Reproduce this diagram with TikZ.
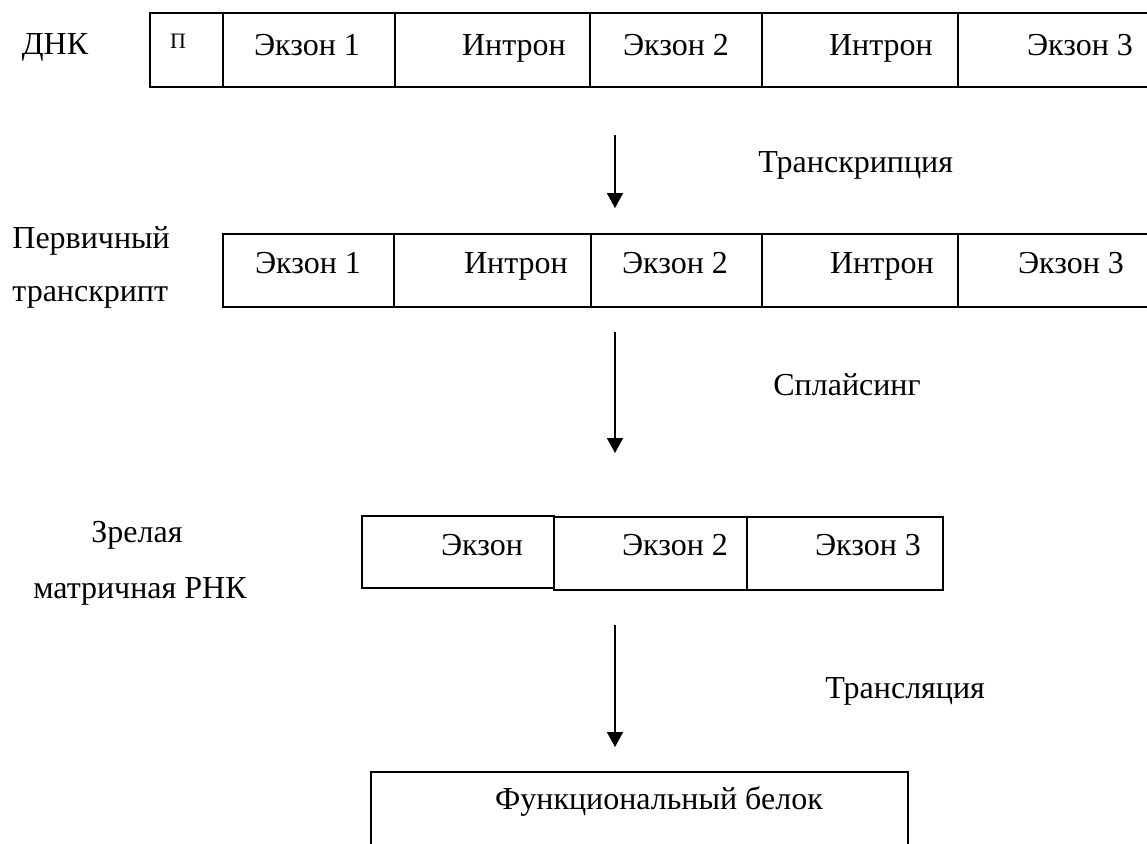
\documentclass[tikz,border=0pt]{standalone}
\usepackage{fontspec}
\setmainfont{Liberation Serif}
\usetikzlibrary{arrows.meta}
\tikzset{
  lbl/.style={font=\fontsize{16}{19}\selectfont, inner sep=0pt, anchor=base},
  side/.style={lbl, anchor=base west},
  cellline/.style={line width=1pt},
  flow/.style={line width=0.9pt, -{Triangle[width=8pt,length=7.5pt]}},
}
\begin{document}
\begin{tikzpicture}[x=0.5pt,y=-0.5pt]
\useasboundingbox (0,0) rectangle (1147,843);
\clip (0,0) rectangle (1147,843);
% DNA row
\draw[cellline] (150,13) rectangle (1200,87);
\foreach \kx in {223,395,590,762,958}
  \draw[cellline] (\kx,13) -- (\kx,87);
\node[lbl] (dnk) at (55,54) {ДНК};
\node[lbl, font=\fontsize{11}{13}\selectfont] (prom) at (178,48) {П};
\node[lbl] (dex1) at (307,55) {Экзон 1};
\node[lbl] (din1) at (514,55) {Интрон};
\node[lbl] (dex2) at (676,55) {Экзон 2};
\node[lbl] (din2) at (881,55) {Интрон};
\node[lbl] (dex3) at (1080,55) {Экзон 3};
% primary transcript
\draw[cellline] (223,234) rectangle (1200,307);
\foreach \kx in {394,591,762,958}
  \draw[cellline] (\kx,234) -- (\kx,307);
\node[side] (pt1) at (12,248) {Первичный};
\node[side] (pt2) at (12,301) {транскрипт};
\node[lbl] (pex1) at (308,273) {Экзон 1};
\node[lbl] (pin1) at (516,273) {Интрон};
\node[lbl] (pex2) at (675,273) {Экзон 2};
\node[lbl] (pin2) at (882,273) {Интрон};
\node[lbl] (pex3) at (1071,273) {Экзон 3};
% mature mRNA
\draw[cellline] (362,516) rectangle (554,588);
\draw[cellline] (554,517) rectangle (747,590);
\draw[cellline] (747,517) rectangle (943,590);
\node[lbl] (mr1) at (137,542) {Зрелая};
\node[lbl] (mr2) at (140,598) {матричная РНК};
\node[lbl] (mex1) at (482,555) {Экзон};
\node[lbl] (mex2) at (675,555) {Экзон 2};
\node[lbl] (mex3) at (868,555) {Экзон 3};
% protein
\draw[cellline] (371,900) -- (371,772) -- (908,772) -- (908,900);
\node[lbl] (prot) at (659,809) {Функциональный белок};
% arrows
\coordinate (a1s) at (615,135);
\coordinate (a1e) at (615,208);
\coordinate (a2s) at (615,332);
\coordinate (a2e) at (615,453);
\coordinate (a3s) at (615,625);
\coordinate (a3e) at (615,747);
\draw[flow] (a1s) -- (a1e);
\draw[flow] (a2s) -- (a2e);
\draw[flow] (a3s) -- (a3e);
\node[side] (trs) at (758,172) {Транскрипция};
\node[side] (spl) at (773,395) {Сплайсинг};
\node[side] (trl) at (825,698) {Трансляция};
\end{tikzpicture}
\end{document}
